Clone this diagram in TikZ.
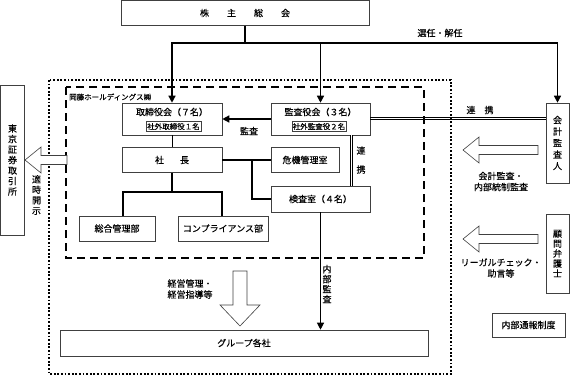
\documentclass[tikz,border=0pt]{standalone}
\usepackage{fontspec}
\setmainfont{Noto Sans CJK JP}[FakeBold=0.3]
\usetikzlibrary{arrows.meta, positioning}
\tikzstyle{arrowline} = [line width=1.4pt,-{Triangle[length=7pt,width=7pt]}]
\tikzstyle{thickline} = [line width=1.4pt]
\tikzstyle{thinline} = [line width=0.8pt]
\tikzstyle{unit} = [rectangle, draw=black!75, line width=0.6pt, fill=white, inner sep=1pt, font=\fontsize{9}{11}\selectfont, align=center]
\tikzstyle{subunit} = [rectangle, draw=black!75, line width=0.5pt, inner sep=1pt, minimum height=10pt, font=\fontsize{7.5}{8}\selectfont]
\tikzstyle{tag} = [inner sep=0pt, font=\fontsize{9}{11}\selectfont, align=center]
\tikzstyle{twinline} = [double, double distance=1.5pt, line width=0.7pt]
\tikzstyle{railline} = [line width=0.7pt]
\tikzstyle{hollow} = [draw=black!75, line width=0.6pt, fill=white]
\newcommand{\hollowleft}[3]{% tip x, y, tail x
  \draw[hollow] (#1,#2) -- ++(16,-13) -- ++(0,8.5) -- (#3,#2-4.5) -- (#3,#2+4.5) -- (#1+16,#2+4.5) -- (#1+16,#2+13) -- cycle;}

\begin{document}
\begin{tikzpicture}[x=1pt, y=-1pt]
\useasboundingbox (0,0) rectangle (571,376);

% Frames
\draw[line width=1.8pt, dash pattern=on 1.8pt off 1.8pt] (49,80) rectangle (451,374);
\draw[line width=1.5pt, dash pattern=on 8pt off 5pt] (66,87) rectangle (424,258);
\node (okafuji) [anchor=west, inner sep=0pt, font=\fontsize{7.5}{8}\selectfont] at (69,97) {岡藤ホールディングス㈱};

% Boxes
\node (sokai) [unit, minimum width=248pt, minimum height=25pt] at (245,13) {株　　主　　総　　会};

\node (tori) [unit, minimum width=100pt, minimum height=32pt] at (172,119) {};
\node (tori_name) [tag] at (172,112) {取締役会（７名）};
\node (tori_out) [subunit] at (173.5,126.5) {社外取締役１名};

\node (kansa) [unit, minimum width=99pt, minimum height=32pt] at (320.5,119) {};
\node (kansa_name) [tag] at (320.5,112) {監査役会（３名）};
\node (kansa_out) [subunit] at (319,126.5) {社外監査役２名};

\node (shacho) [unit, minimum width=100pt, minimum height=25pt] at (172,160) {社\hspace{16pt}長};
\node (kiki) [unit, minimum width=68pt, minimum height=25pt] at (305,160) {危機管理室};
\node (kensa) [unit, minimum width=99pt, minimum height=26pt] at (320.5,199) {検査室（４名）};
\node (somu) [unit, minimum width=76pt, minimum height=25pt] at (117,228.5) {総合管理部};
\node (comp) [unit, minimum width=90pt, minimum height=25pt] at (223,228.5) {コンプライアンス部};
\node (group) [unit, minimum width=368pt, minimum height=26pt] at (244,343) {グループ各社};

\node (tosho) [unit, minimum width=24pt, minimum height=150pt, font=\fontsize{9}{10.5}\selectfont] at (12.5,160) {東\\京\\証\\券\\取\\引\\所};
\node (kaikei) [unit, minimum width=23pt, minimum height=80pt, font=\fontsize{9}{11.5}\selectfont] at (557.5,143) {会\\計\\監\\査\\人};
\node (bengo) [unit, minimum width=23pt, minimum height=79pt, font=\fontsize{9}{10}\selectfont] at (557.5,253.5) {顧\\問\\弁\\護\\士};
\node (tsuho) [unit, minimum width=73pt, minimum height=24pt] at (528.5,325) {内部通報制度};

% Connections
\coordinate (senin) at (245,43);
\draw[thickline] (sokai.south) -- (senin);
\draw[arrowline] (senin) -| (tori.north);
\draw[arrowline] (senin) -| (kansa.north);
\draw[arrowline] (senin) -| (kaikei.north);
\node (senin_label) [tag] at (440,33) {選任・解任};

\draw[arrowline] (kansa.west) -- (tori.east);
\node (kansa_label) [tag] at (249,131) {監査};
\draw[thinline] (tori.south) -- (shacho.north);
\coordinate (bu) at (172,192);
\draw[thickline] (shacho.south) -- (bu);
\draw[thickline] ([xshift=6pt]somu.north) |- (bu) -| ([xshift=-1pt]comp.north);
\draw[thickline] (shacho.east) -- (kiki.west);
\coordinate (kiki_bunki) at (252,160);
\draw[thickline] (kiki_bunki) |- (kensa.west);

\draw[twinline] ([xshift=31pt]kansa.south) -- ([xshift=31pt]kensa.north);
\node (renkei_v) [tag] at (361,160) {連\\[8pt]携};
\coordinate (kaikei_renkei) at (546,118);
\draw[railline] ([yshift=2.1pt]kansa.east) -- ([yshift=1.1pt]kaikei_renkei);
\draw[railline] ([yshift=-0.1pt]kansa.east) -- ([yshift=-1.1pt]kaikei_renkei);
\node (renkei_h) [tag] at (480,110) {連　携};

\draw[arrowline, line width=1.2pt] (kensa.south) -- (kensa.south |- group.north);
\node (naibu_label) [tag, font=\fontsize{9}{10}\selectfont] at (327,284) {内\\部\\監\\査};

% Hollow arrows
\hollowleft{25}{160}{67}
\hollowleft{463}{150}{538}
\hollowleft{463}{239}{538}
\draw[hollow] (233,271) -- (247,271) -- (247,305) -- (260,305) -- (240,326) -- (220,305) -- (233,305) -- cycle;

\node (kaiji_label) [tag, font=\fontsize{9}{10.5}\selectfont] at (36.5,195) {適\\時\\開\\示};
\node (kaikei_label) [tag] at (501,181.5) {会計監査・\\内部統制監査};
\node (bengo_label) [tag] at (501,268) {リーガルチェック・\\助言等};
\node (keiei_label) [tag] at (190,289) {経営管理・\\経営指導等};

\end{tikzpicture}
\end{document}
